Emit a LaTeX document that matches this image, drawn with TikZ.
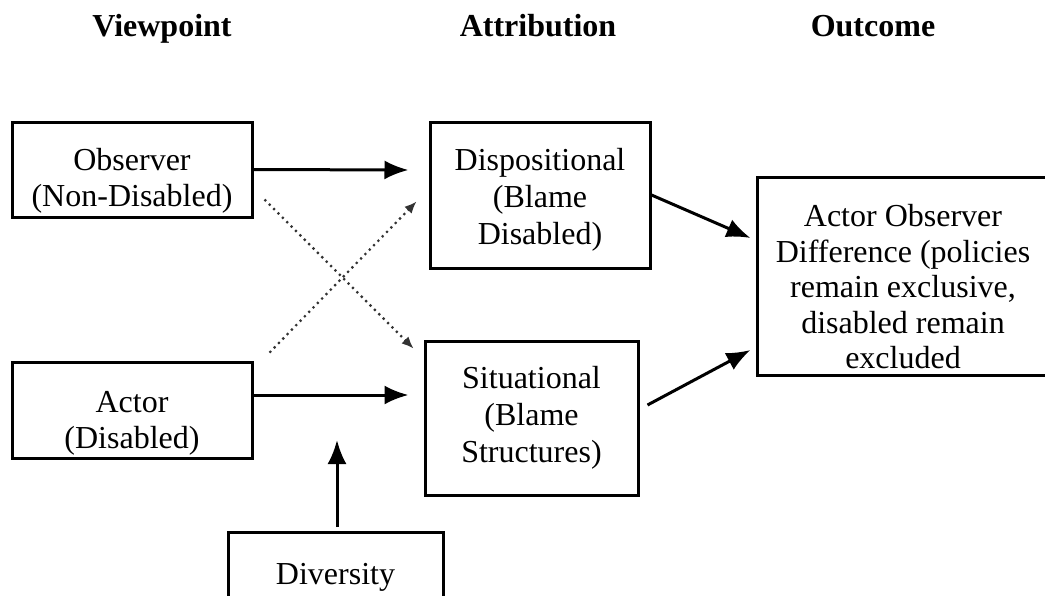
\documentclass[tikz,border=0pt]{standalone}
\usepackage{fontspec}
\setmainfont{Liberation Serif}
\usetikzlibrary{positioning,arrows.meta,calc}

\begin{document}
\begin{tikzpicture}[x=0.5pt,y=-0.5pt,font=\fontsize{16}{18}\selectfont,>=Latex]
\tikzstyle{box}=[draw,line width=1.5pt,align=center,inner sep=2pt]
\tikzstyle{hdr}=[font=\fontsize{16}{18}\selectfont\bfseries,anchor=base]
\tikzstyle{arr}=[->,line width=1.5pt,>={Latex[length=12pt,width=9.5pt]}]
\tikzstyle{dots}=[->,dotted,line width=1.1pt,black!80,>={Latex[length=6pt,width=5pt]}]
\clip (0,0) rectangle (1045,595);
% column headings
\node[hdr] (hview) at (162,36) {Viewpoint};
\node[hdr] (hattr) at (538,36) {Attribution};
\node[hdr] (hout) at (873,36) {Outcome};
% boxes
\node[box,minimum width=120pt,minimum height=47.5pt] (obs) at (132,169.5) {\rule{0pt}{22pt}Observer\\(Non-Disabled)};
\node[box,minimum width=120pt,minimum height=47.5pt] (act) at (132,410.5) {\rule{0pt}{23pt}Actor\\(Disabled)};
\node[box,minimum width=110pt,minimum height=73pt,font=\fontsize{16}{18.5}\selectfont] (disp) at (540,195) {\rule{0pt}{16pt}Dispositional\\(Blame\\Disabled)};
\node[box,minimum width=106.5pt,minimum height=77pt,font=\fontsize{16}{18.5}\selectfont] (sit) at (531.5,418) {Situational\\(Blame\\Structures)};
\node[box,minimum width=146pt,minimum height=99pt,font=\fontsize{16}{17.75}\selectfont] (out) at (903,276) {\rule{0pt}{22pt}Actor Observer\\Difference (policies\\remain exclusive,\\disabled remain\\excluded};
\node[box,minimum width=107.5pt,minimum height=44.5pt] (div) at (335.5,577) {Diversity};
% connectors
\draw[arr] (obs.east) -- ($(disp.west)+(-20,-25)$);
\draw[arr] ($(act.east)+(0,-15.5)$) -- ($(sit.west)+(-15,-23)$);
\draw[arr] (disp.east) -- ($(out.west)+(-5,-38)$);
\draw[arr] ($(sit.east)+(8,-13)$) -- ($(out.west)+(-5,74)$);
\draw[arr] ($(div.north)+(1.5,-4)$) -- ($(div.north)+(1.5,-91)$);
\draw[dots] ($(obs.south east)+(11,-19)$) -- ($(sit.north west)+(-10,9)$);
\draw[dots] ($(act.north east)+(16,-8)$) -- ($(disp.south west)+(-12,-68)$);
\end{tikzpicture}
\end{document}
